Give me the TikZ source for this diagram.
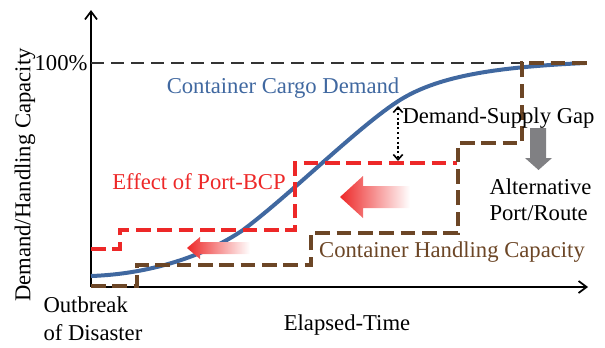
\documentclass[tikz,border=0pt]{standalone}
\usepackage{fontspec}
\setmainfont{Liberation Serif}
\usetikzlibrary{arrows.meta}

\definecolor{demandblue}{RGB}{64,104,160}
\definecolor{bcpred}{RGB}{237,40,40}
\definecolor{capbrown}{RGB}{108,70,38}
\definecolor{altgray}{RGB}{128,128,131}

\tikzset{every picture/.style={line width=0.75pt}}
\tikzset{
  lbl/.style={inner sep=0pt,font=\fontsize{17}{20}\selectfont},
  axisline/.style={line width=1.5pt,-{Straight Barb[length=6pt,width=9pt,line width=1.3pt]}},
  stepline/.style={line width=2.6pt,dash pattern=on 11pt off 5pt}
}

\begin{document}
\begin{tikzpicture}[x=0.75pt,y=0.75pt,yscale=-1,xscale=1]
\useasboundingbox (0,0) rectangle (605,347);

%Axes
\coordinate (origin) at (91,287);
\draw [axisline] (origin) -- (91,10);
\draw [axisline] (origin) -- (588,287);

%100% line
\draw [line width=1.2pt,dash pattern=on 10pt off 5pt,black!80] (91,63) -- (587,63);

%Demand curve
\draw [demandblue,line width=3pt] (91,276) .. controls (150,274) and (205,256) .. (243,230) .. controls (290,195) and (360,125) .. (400,100) .. controls (440,75) and (500,67) .. (585,63);

%Port-BCP capacity
\draw [stepline,bcpred] (91,249) -- (120,249) -- (120,230) -- (295,230) -- (295,163) -- (457,163);

%Handling capacity
\draw [stepline,capbrown] (91,286) -- (137,286) -- (137,265) -- (311,265) -- (311,233) -- (458,233) -- (458,143) -- (522,143) -- (522,63) -- (587,63);

%Left Arrows (shaded)
\shade [left color=bcpred,right color=white] (340,197) -- (363,176) -- (363,186) -- (410,186) -- (410,208) -- (363,208) -- (363,218) -- cycle;
\shade [left color=bcpred,right color=white] (187,248) -- (200,237) -- (200,242) -- (250,242) -- (250,254) -- (200,254) -- (200,259) -- cycle;

%Down Arrow
\fill [altgray] (530,128) -- (546,128) -- (546,158) -- (552,158) -- (538.5,170) -- (525,158) -- (530,158) -- cycle;

%Gap arrow
\coordinate (gaptop) at (398,106);
\coordinate (gapbot) at (398,161);
\draw [line width=1.6pt,dotted,{Straight Barb[length=4pt,width=7pt,line width=1.2pt]}-{Straight Barb[length=4pt,width=7pt,line width=1.2pt]}] (gaptop) -- (gapbot);

% Text Node
\draw (88,63) node (full) [lbl,anchor=east] {100\%};
% Text Node
\draw (283,88) node (demand) [lbl,text=demandblue] {Container Cargo Demand};
% Text Node
\draw (402,118) node (gap) [lbl,anchor=west] {Demand-Supply Gap};
% Text Node
\draw (489,200) node (alt) [lbl,anchor=west,align=left,font=\fontsize{17}{19.5}\selectfont] {Alternative\\Port/Route};
% Text Node
\draw (199,182) node (bcp) [lbl,text=bcpred] {Effect of Port-BCP};
% Text Node
\draw (452,252) node (cap) [lbl,text=capbrown] {Container Handling Capacity};
% Text Node
\draw (43,319) node (outbreak) [lbl,anchor=west,align=left,font=\fontsize{17}{21}\selectfont] {Outbreak\\of Disaster};
% Text Node
\draw (347,325) node (time) [lbl] {Elapsed-Time};
% Text Node
\draw (25,175) node (ylabel) [lbl,rotate=90] {Demand/Handling Capacity};

\end{tikzpicture}
\end{document}
